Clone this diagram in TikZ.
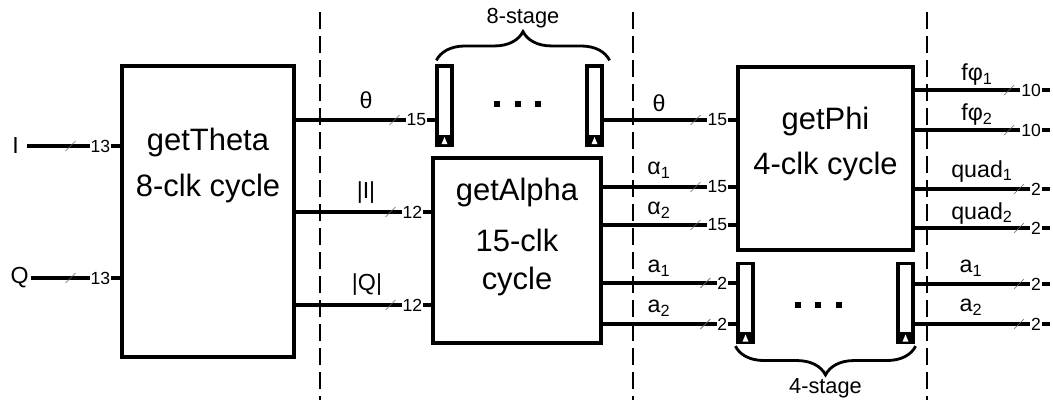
\documentclass[tikz,border=0pt]{standalone}
\usepackage{fontspec}
\setmainfont{Liberation Sans}
\usetikzlibrary{positioning, calc, decorations.pathreplacing}

\tikzset{
  block/.style={draw, line width=2.3pt, inner sep=0pt},
  regbox/.style={draw, line width=2.3pt, inner sep=0pt,
    minimum width=0.375cm, minimum height=1.975cm},
  blocktext/.style={font=\fontsize{22}{26}\selectfont, inner sep=0pt},
  sig/.style={font=\fontsize{16.5}{18}\selectfont, inner sep=0pt},
  stagelab/.style={font=\fontsize{15.5}{17}\selectfont, inner sep=0pt},
  wnum/.style={font=\fontsize{12.5}{13}\selectfont, fill=white, inner sep=0.6pt, anchor=east},
  bus/.style={line width=2.3pt},
  slash/.style={line width=0.4pt, black!60},
  divider/.style={line width=1.7pt, dash pattern=on 0.42cm off 0.18cm},
  brace/.style={decorate, decoration={brace, amplitude=0.72cm}, line width=2pt},
}

% bus from node to node at height y, with its width mark
\newcommand\busline[4]{%
  \draw[bus] (#1.east |- 0,#3) -- (#2.west |- 0,#3);
  \node[wnum] (w-#1-#3) at ($(#2.west |- 0,#3)+(-8,0)$) {#4};
  \draw[slash] ($(w-#1-#3.west)+(-16,5)$) -- ++(10,-10);
}
% bus from node to a free end
\newcommand\busout[3]{%
  \draw[bus] (#1.east |- #2) -- (#2);
  \node[wnum] (w-#2) at ($(#2)+(-8,0)$) {#3};
  \draw[slash] ($(w-#2.west)+(-16,5)$) -- ++(10,-10);
}

\begin{document}
\begin{tikzpicture}[x=0.025cm, y=-0.025cm]
    \useasboundingbox (0,0) rectangle (1053,402);

    % stage dividers
    \draw[divider] (320,12) -- (320,400);
    \draw[divider] (633,12) -- (633,400);
    \draw[divider] (927,12) -- (927,400);

    % blocks
    \node[block, minimum width=4.3cm, minimum height=7.275cm] (getTheta) at (208,211.5) {};
    \node[block, minimum width=4.2cm, minimum height=4.625cm] (getAlpha) at (517,250.5) {};
    \node[block, minimum width=4.375cm, minimum height=4.575cm] (getPhi) at (825.5,158.5) {};
    \node[blocktext] (thetaName) at (208,142) {getTheta};
    \node[blocktext] (thetaClk) at (208,188) {8-clk cycle};
    \node[blocktext] (alphaName) at (517,192) {getAlpha};
    \node[blocktext] (alphaClk) at (517,240) {15-clk};
    \node[blocktext] (alphaCyc) at (517,281) {cycle};
    \node[blocktext] (phiName) at (825.5,121) {getPhi};
    \node[blocktext] (phiClk) at (825.5,166) {4-clk cycle};

    % pipeline registers
    \node[regbox] (regA1) at (444.5,105.5) {};
    \node[regbox] (regA2) at (594.5,105.5) {};
    \node[regbox] (regB1) at (745.5,303) {};
    \node[regbox] (regB2) at (905.5,303) {};
    \foreach \r in {regA1,regA2,regB1,regB2}{
        \fill ($(\r.south west)+(0,-12)$) rectangle (\r.south east);
        \fill[white] ($(\r.south)+(-3,-2.5)$) -- ++(3,-7) -- ++(3,7) -- cycle;
    }
    \foreach \x in {497,518,538}
        \fill (\x-3,101) rectangle (\x+3,107);
    \foreach \x in {798,818,839}
        \fill (\x-3,302) rectangle (\x+3,308);

    \draw[brace] ($(regA1.north west)+(1,-4)$) -- ($(regA2.north east)+(6,-4)$)
        node[stagelab, midway, yshift=1.05cm] (stage8) {8-stage};
    \draw[brace] ($(regB2.south east)+(1,2)$) -- ($(regB1.south west)+(-1,2)$)
        node[stagelab, midway, yshift=-1.05cm] (stage4) {4-stage};

    % inputs
    \node[sig, anchor=east] (inI) at (19,146) {I};
    \node[sig, anchor=east] (inQ) at (29,278) {Q};
    \draw[bus, shorten <=0.2cm] (inI.east) -- (getTheta.west |- inI);
    \node[wnum] (w-inI) at ($(getTheta.west |- inI)+(-9,0)$) {13};
    \draw[slash] ($(w-inI.west)+(-24,5)$) -- ++(10,-10);
    \draw[bus, shorten <=0.05cm] (inQ.east) -- (getTheta.west |- inQ);
    \node[wnum] (w-inQ) at ($(getTheta.west |- inQ)+(-9,0)$) {13};
    \draw[slash] ($(w-inQ.west)+(-24,5)$) -- ++(10,-10);

    % buses between stages
    \busline{getTheta}{regA1}{120}{15}
    \busline{getTheta}{getAlpha}{212}{12}
    \busline{getTheta}{getAlpha}{305}{12}
    \busline{regA2}{getPhi}{120}{15}
    \busline{getAlpha}{getPhi}{187}{15}
    \busline{getAlpha}{getPhi}{225}{15}
    \busline{getAlpha}{regB1}{283}{2}
    \busline{getAlpha}{regB1}{324}{2}

    % outputs
    \coordinate (oF1) at (1050,90);
    \coordinate (oF2) at (1050,130);
    \coordinate (oQ1) at (1050,189);
    \coordinate (oQ2) at (1050,228);
    \coordinate (oA1) at (1050,284);
    \coordinate (oA2) at (1050,324);
    \busout{getPhi}{oF1}{10}
    \busout{getPhi}{oF2}{10}
    \busout{getPhi}{oQ1}{2}
    \busout{getPhi}{oQ2}{2}
    \busout{regB2}{oA1}{2}
    \busout{regB2}{oA2}{2}

    % signal names
    \node[sig] (sTheta) at (366,100) {θ};
    \node[sig] (sI) at (366,193) {|I|};
    \node[sig] (sQ) at (367,285) {|Q|};
    \node[sig] (sTheta2) at (659,103) {θ};
    \node[sig] (sAlpha1) at (659,170) {α\textsubscript{1}};
    \node[sig] (sAlpha2) at (659,210) {α\textsubscript{2}};
    \node[sig] (sa1) at (659,268) {a\textsubscript{1}};
    \node[sig] (sa2) at (659,308) {a\textsubscript{2}};
    \node[sig] (sF1) at (977,75) {fφ\textsubscript{1}};
    \node[sig] (sF2) at (977,115) {fφ\textsubscript{2}};
    \node[sig] (sQuad1) at (982,171) {quad\textsubscript{1}};
    \node[sig] (sQuad2) at (982,213) {quad\textsubscript{2}};
    \node[sig] (soa1) at (971,268) {a\textsubscript{1}};
    \node[sig] (soa2) at (971,307) {a\textsubscript{2}};
\end{tikzpicture}
\end{document}
